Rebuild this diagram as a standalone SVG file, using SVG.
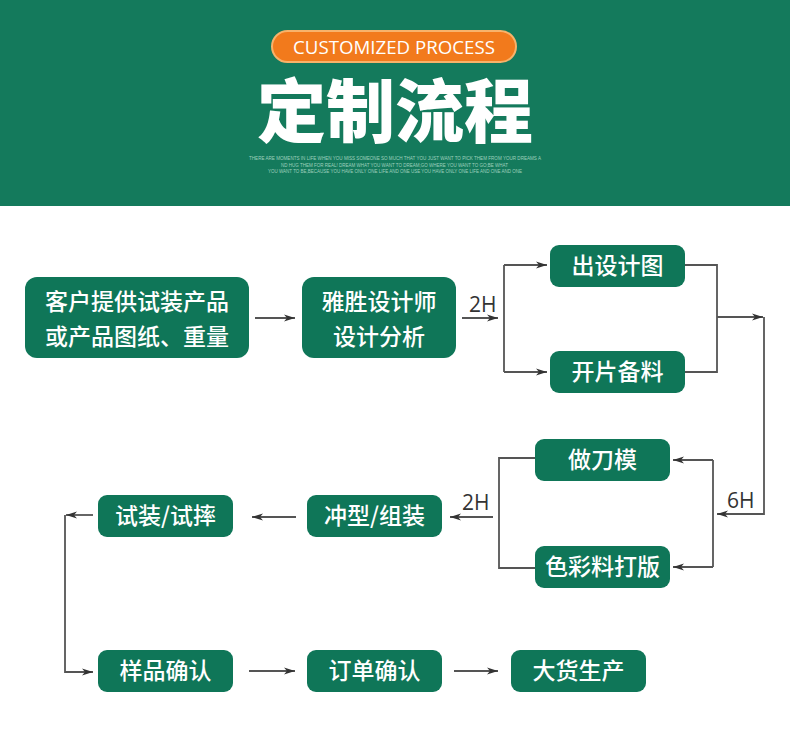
<svg xmlns="http://www.w3.org/2000/svg" width="790" height="737" viewBox="0 0 790 737">
<defs>
<marker id="ah" markerWidth="12" markerHeight="8" refX="11" refY="4" orient="auto" markerUnits="userSpaceOnUse">
<path d="M0,0.5 L11,4 L0,7.5 L3,4 Z" fill="#333"/>
</marker>
<style>
.node rect{fill:#0f7658;}
.node text{fill:#fff;font-family:"Noto Sans CJK SC","Noto Sans",sans-serif;font-size:23px;font-weight:500;text-anchor:middle;}
.conn path{fill:none;stroke:#555;stroke-width:1.8;}
.lbl{fill:#333;font-family:"Open Sans","Liberation Sans",sans-serif;font-size:21px;}
.small{fill:#9fd0bd;font-family:"Liberation Sans",sans-serif;font-size:4.6px;}
</style>
</defs>
<rect width="790" height="737" fill="#fff"/>
<g id="header">
<rect x="0" y="0" width="790" height="206" fill="#147a5c"/>
<rect x="272" y="31" width="244" height="31" rx="15.5" fill="#f27a1c" stroke="#f8b26a" stroke-width="2"/>
<text x="394" y="53.5" fill="#fff" font-family="Open Sans, Noto Sans, sans-serif" font-size="18" font-weight="500" text-anchor="middle" textLength="202" lengthAdjust="spacingAndGlyphs">CUSTOMIZED PROCESS</text>
<text x="395" y="137" fill="#fff" font-family="Noto Sans CJK SC, sans-serif" font-size="69" font-weight="900" text-anchor="middle">定制流程</text>
<text class="small" x="249" y="160" textLength="292" lengthAdjust="spacingAndGlyphs">THERE ARE MOMENTS IN LIFE WHEN YOU MISS SOMEONE SO MUCH THAT YOU JUST WANT TO PICK THEM FROM YOUR DREAMS A</text>
<text class="small" x="281" y="166.5" textLength="227" lengthAdjust="spacingAndGlyphs">ND HUG THEM FOR REAL! DREAM WHAT YOU WANT TO DREAM;GO WHERE YOU WANT TO GO;BE WHAT</text>
<text class="small" x="268" y="173" textLength="254" lengthAdjust="spacingAndGlyphs">YOU WANT TO BE,BECAUSE YOU HAVE ONLY ONE LIFE AND ONE USE YOU HAVE ONLY ONE LIFE AND ONE AND ONE</text>
</g>
<g class="conn" id="connectors">
<path d="M255,318 H295" marker-end="url(#ah)"/>
<path d="M462,318 H498" marker-end="url(#ah)"/>
<path d="M504,265 V372"/>
<path d="M504,265 H547" marker-end="url(#ah)"/>
<path d="M504,372 H547" marker-end="url(#ah)"/>
<path d="M685,265 H717 V372 H685"/>
<path d="M717,317 H763" marker-end="url(#ah)"/>
<path d="M764,317 V514 H717" marker-end="url(#ah)"/>
<path d="M713,460 V567"/>
<path d="M713,460 H673" marker-end="url(#ah)"/>
<path d="M713,567 H673" marker-end="url(#ah)"/>
<path d="M535,458 H499 V568 H535"/>
<path d="M493,517 H450" marker-end="url(#ah)"/>
<path d="M296,517 H252" marker-end="url(#ah)"/>
<path d="M93,515 H66" marker-end="url(#ah)"/>
<path d="M65,515 V672 H93" marker-end="url(#ah)"/>
<path d="M249,671 H295" marker-end="url(#ah)"/>
<path d="M454,671 H498" marker-end="url(#ah)"/>
</g>
<text class="lbl" x="469" y="312">2H</text>
<text class="lbl" x="727" y="508">6H</text>
<text class="lbl" x="462" y="510">2H</text>
<g class="node" id="n1"><rect x="25" y="277" width="224" height="81" rx="12"/><text x="137" y="310">客户提供试装产品</text><text x="137" y="345">或产品图纸、重量</text></g>
<g class="node" id="n2"><rect x="302" y="277" width="154" height="81" rx="12"/><text x="379" y="310">雅胜设计师</text><text x="379" y="345">设计分析</text></g>
<g class="node" id="n3"><rect x="550" y="245" width="135" height="42" rx="9"/><text x="617.5" y="274">出设计图</text></g>
<g class="node" id="n4"><rect x="550" y="351" width="135" height="42" rx="9"/><text x="617.5" y="380">开片备料</text></g>
<g class="node" id="n5"><rect x="535" y="439" width="135" height="42" rx="9"/><text x="602.5" y="468">做刀模</text></g>
<g class="node" id="n6"><rect x="535" y="546" width="135" height="42" rx="9"/><text x="602.5" y="575">色彩料打版</text></g>
<g class="node" id="n7"><rect x="307" y="495" width="135" height="42" rx="9"/><text x="374.5" y="524">冲型/组装</text></g>
<g class="node" id="n8"><rect x="98" y="495" width="135" height="42" rx="9"/><text x="165.5" y="524">试装/试摔</text></g>
<g class="node" id="n9"><rect x="98" y="650" width="135" height="42" rx="9"/><text x="165.5" y="679">样品确认</text></g>
<g class="node" id="n10"><rect x="307" y="650" width="135" height="42" rx="9"/><text x="374.5" y="679">订单确认</text></g>
<g class="node" id="n11"><rect x="511" y="650" width="135" height="42" rx="9"/><text x="578.5" y="679">大货生产</text></g>
</svg>
